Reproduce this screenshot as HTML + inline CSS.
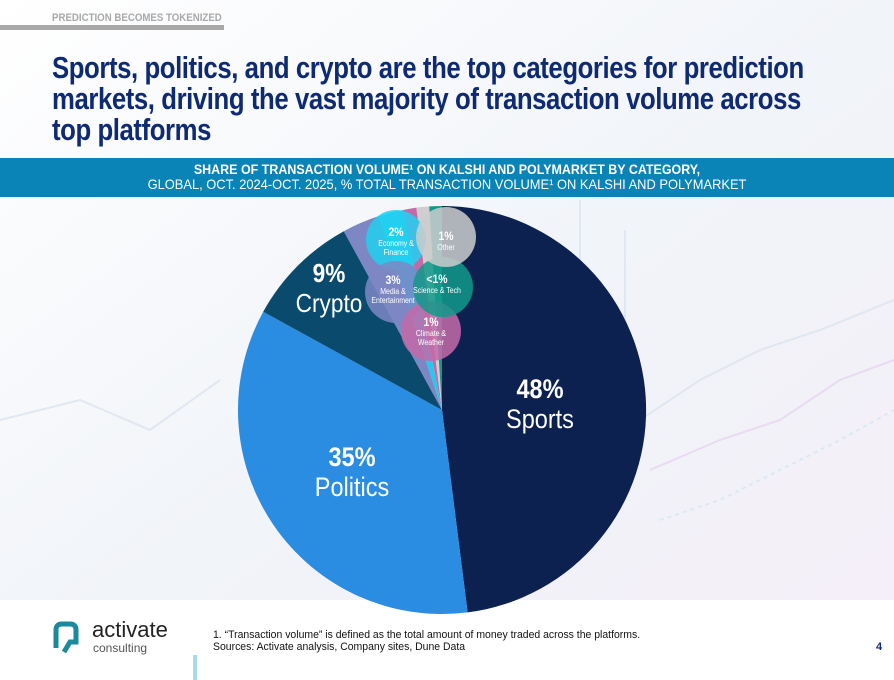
<!DOCTYPE html>
<html><head><meta charset="utf-8"><style>
body{margin:0;width:894px;height:680px;overflow:hidden;background:#fff;font-family:"Liberation Sans",sans-serif;position:relative}
.t{position:absolute;white-space:nowrap}
.c{transform:scaleX(0.87);transform-origin:center}
</style></head><body>
<svg width="894" height="680" style="position:absolute;left:0;top:0">
<defs>
<linearGradient id="bg" x1="0" y1="0" x2="1" y2="1">
<stop offset="0" stop-color="#ffffff"/><stop offset="0.5" stop-color="#f1f4f9"/><stop offset="1" stop-color="#f4eef8"/>
</linearGradient>
</defs>
<rect x="0" y="0" width="894" height="680" fill="url(#bg)"/>
<g stroke="#dfe6f0" stroke-width="2" fill="none" opacity="0.9">
<path d="M0 420 L80 400 L150 430 L220 380"/>
<path d="M640 420 L700 380 L760 350 L820 330 L894 300"/>
<path d="M650 470 L720 440 L780 420 L840 380 L894 360" stroke="#e8d8f0"/>
<path d="M660 520 L720 500 L780 470 L840 440 L894 410" stroke="#d8e8f4" stroke-dasharray="4 4"/>
<line x1="580" y1="200" x2="580" y2="300"/><line x1="625" y1="230" x2="625" y2="330"/>
</g>
<rect x="0" y="600" width="894" height="80" fill="#fff"/>
<rect x="0" y="25" width="224" height="5" fill="#a8a8a8"/>
<rect x="0" y="158" width="894" height="39" fill="#0a84b6"/>
<g transform="translate(442,410)">
<path d="M0 0 L0 -204 A204 204 0 0 1 25.6 202.4 Z" fill="#0c2150"/>
<path d="M0 0 L25.6 202.4 A204 204 0 0 1 -178.8 -98.2 Z" fill="#2a8de2"/>
<path d="M0 0 L-178.8 -98.2 A204 204 0 0 1 -98.2 -178.8 Z" fill="#0a4a6c"/>
<path d="M0 0 L-98.2 -178.8 A204 204 0 0 1 -63 -194 Z" fill="#7c87c4"/>
<path d="M0 0 L-63 -194 A204 204 0 0 1 -39 -200 Z" fill="#27c8ee"/>
<path d="M0 0 L-39 -200 A204 204 0 0 1 -25.6 -202.4 Z" fill="#c46aa8"/>
<path d="M0 0 L-25.6 -202.4 A204 204 0 0 1 -12.8 -203.6 Z" fill="#cfcfcf"/>
<path d="M0 0 L-12.8 -203.6 A204 204 0 0 1 0 -204 Z" fill="#12998a"/>
</g>
<circle cx="396" cy="240" r="30" fill="#22d0f0" opacity="0.85"/>
<circle cx="396" cy="292" r="31" fill="#7c87c4" opacity="0.85"/>
<circle cx="431" cy="331" r="30" fill="#c46aa8" opacity="0.85"/>
<circle cx="443" cy="287" r="30" fill="#12998a" opacity="0.85"/>
<circle cx="446" cy="237" r="30" fill="#cccccc" opacity="0.85"/>
<rect x="193" y="655" width="4" height="25" fill="#a8dbe8"/>
<path d="M56 648 L56 630 Q56 624 62 624 L70 624 Q76 624 76 630 L76 642 L70 642 L64 652" fill="none" stroke="#1a8a9c" stroke-width="5"/>
</svg>
<div class="t" style="left:52px;top:12px;font-size:11px;font-weight:bold;color:#a8a8a8;transform:scaleX(0.88);transform-origin:left">PREDICTION BECOMES TOKENIZED</div>
<div class="t" style="left:52px;top:52px;font-size:31px;line-height:31px;font-weight:bold;color:#0d2a73;letter-spacing:-0.5px;transform:scaleX(0.83);transform-origin:left">Sports, politics, and crypto are the top categories for prediction<br>markets, driving the vast majority of transaction volume across<br>top platforms</div>
<div class="t" style="left:0;width:894px;top:162px;text-align:center;color:#fff;font-size:14px;line-height:15px">
<div style="transform:scaleX(0.89)"><b>SHARE OF TRANSACTION VOLUME¹ ON KALSHI AND POLYMARKET BY CATEGORY,</b></div><div style="transform:scaleX(0.92)">GLOBAL, OCT. 2024-OCT. 2025, % TOTAL TRANSACTION VOLUME¹ ON KALSHI AND POLYMARKET</div></div>
<div class="t c" style="left:490px;width:100px;top:374px;text-align:center;color:#fff;font-size:27px;line-height:30px"><b>48%</b><br>Sports</div>
<div class="t c" style="left:302px;width:100px;top:442px;text-align:center;color:#fff;font-size:27px;line-height:30px"><b>35%</b><br>Politics</div>
<div class="t c" style="left:279px;width:100px;top:258px;text-align:center;color:#fff;font-size:26px;line-height:30px"><b>9%</b><br>Crypto</div>
<div class="t c" style="left:366px;width:60px;top:226px;text-align:center;color:#fff;font-size:8px;line-height:9px"><b style="font-size:12px;line-height:13px">2%</b><br>Economy &amp;<br>Finance</div>
<div class="t c" style="left:416px;width:60px;top:230px;text-align:center;color:#fff;font-size:8px;line-height:9px"><b style="font-size:12px;line-height:13px">1%</b><br>Other</div>
<div class="t c" style="left:363px;width:60px;top:274px;text-align:center;color:#fff;font-size:8px;line-height:9px"><b style="font-size:12px;line-height:13px">3%</b><br>Media &amp;<br>Entertainment</div>
<div class="t c" style="left:407px;width:60px;top:273px;text-align:center;color:#fff;font-size:8px;line-height:9px"><b style="font-size:12px;line-height:13px">&lt;1%</b><br>Science &amp; Tech</div>
<div class="t c" style="left:401px;width:60px;top:316px;text-align:center;color:#fff;font-size:8px;line-height:9px"><b style="font-size:12px;line-height:13px">1%</b><br>Climate &amp;<br>Weather</div>
<div class="t" style="left:92px;top:619px;font-size:22px;line-height:22px;color:#222">activate</div>
<div class="t" style="left:93px;top:641px;font-size:12px;color:#555">consulting</div>
<div class="t" style="left:213px;top:629px;font-size:11px;line-height:12px;color:#111;transform:scaleX(0.95);transform-origin:left">1. “Transaction volume” is defined as the total amount of money traded across the platforms.<br>Sources: Activate analysis, Company sites, Dune Data</div>
<div class="t" style="left:876px;top:641px;font-size:11px;font-weight:bold;color:#0d2a73">4</div>
</body></html>
